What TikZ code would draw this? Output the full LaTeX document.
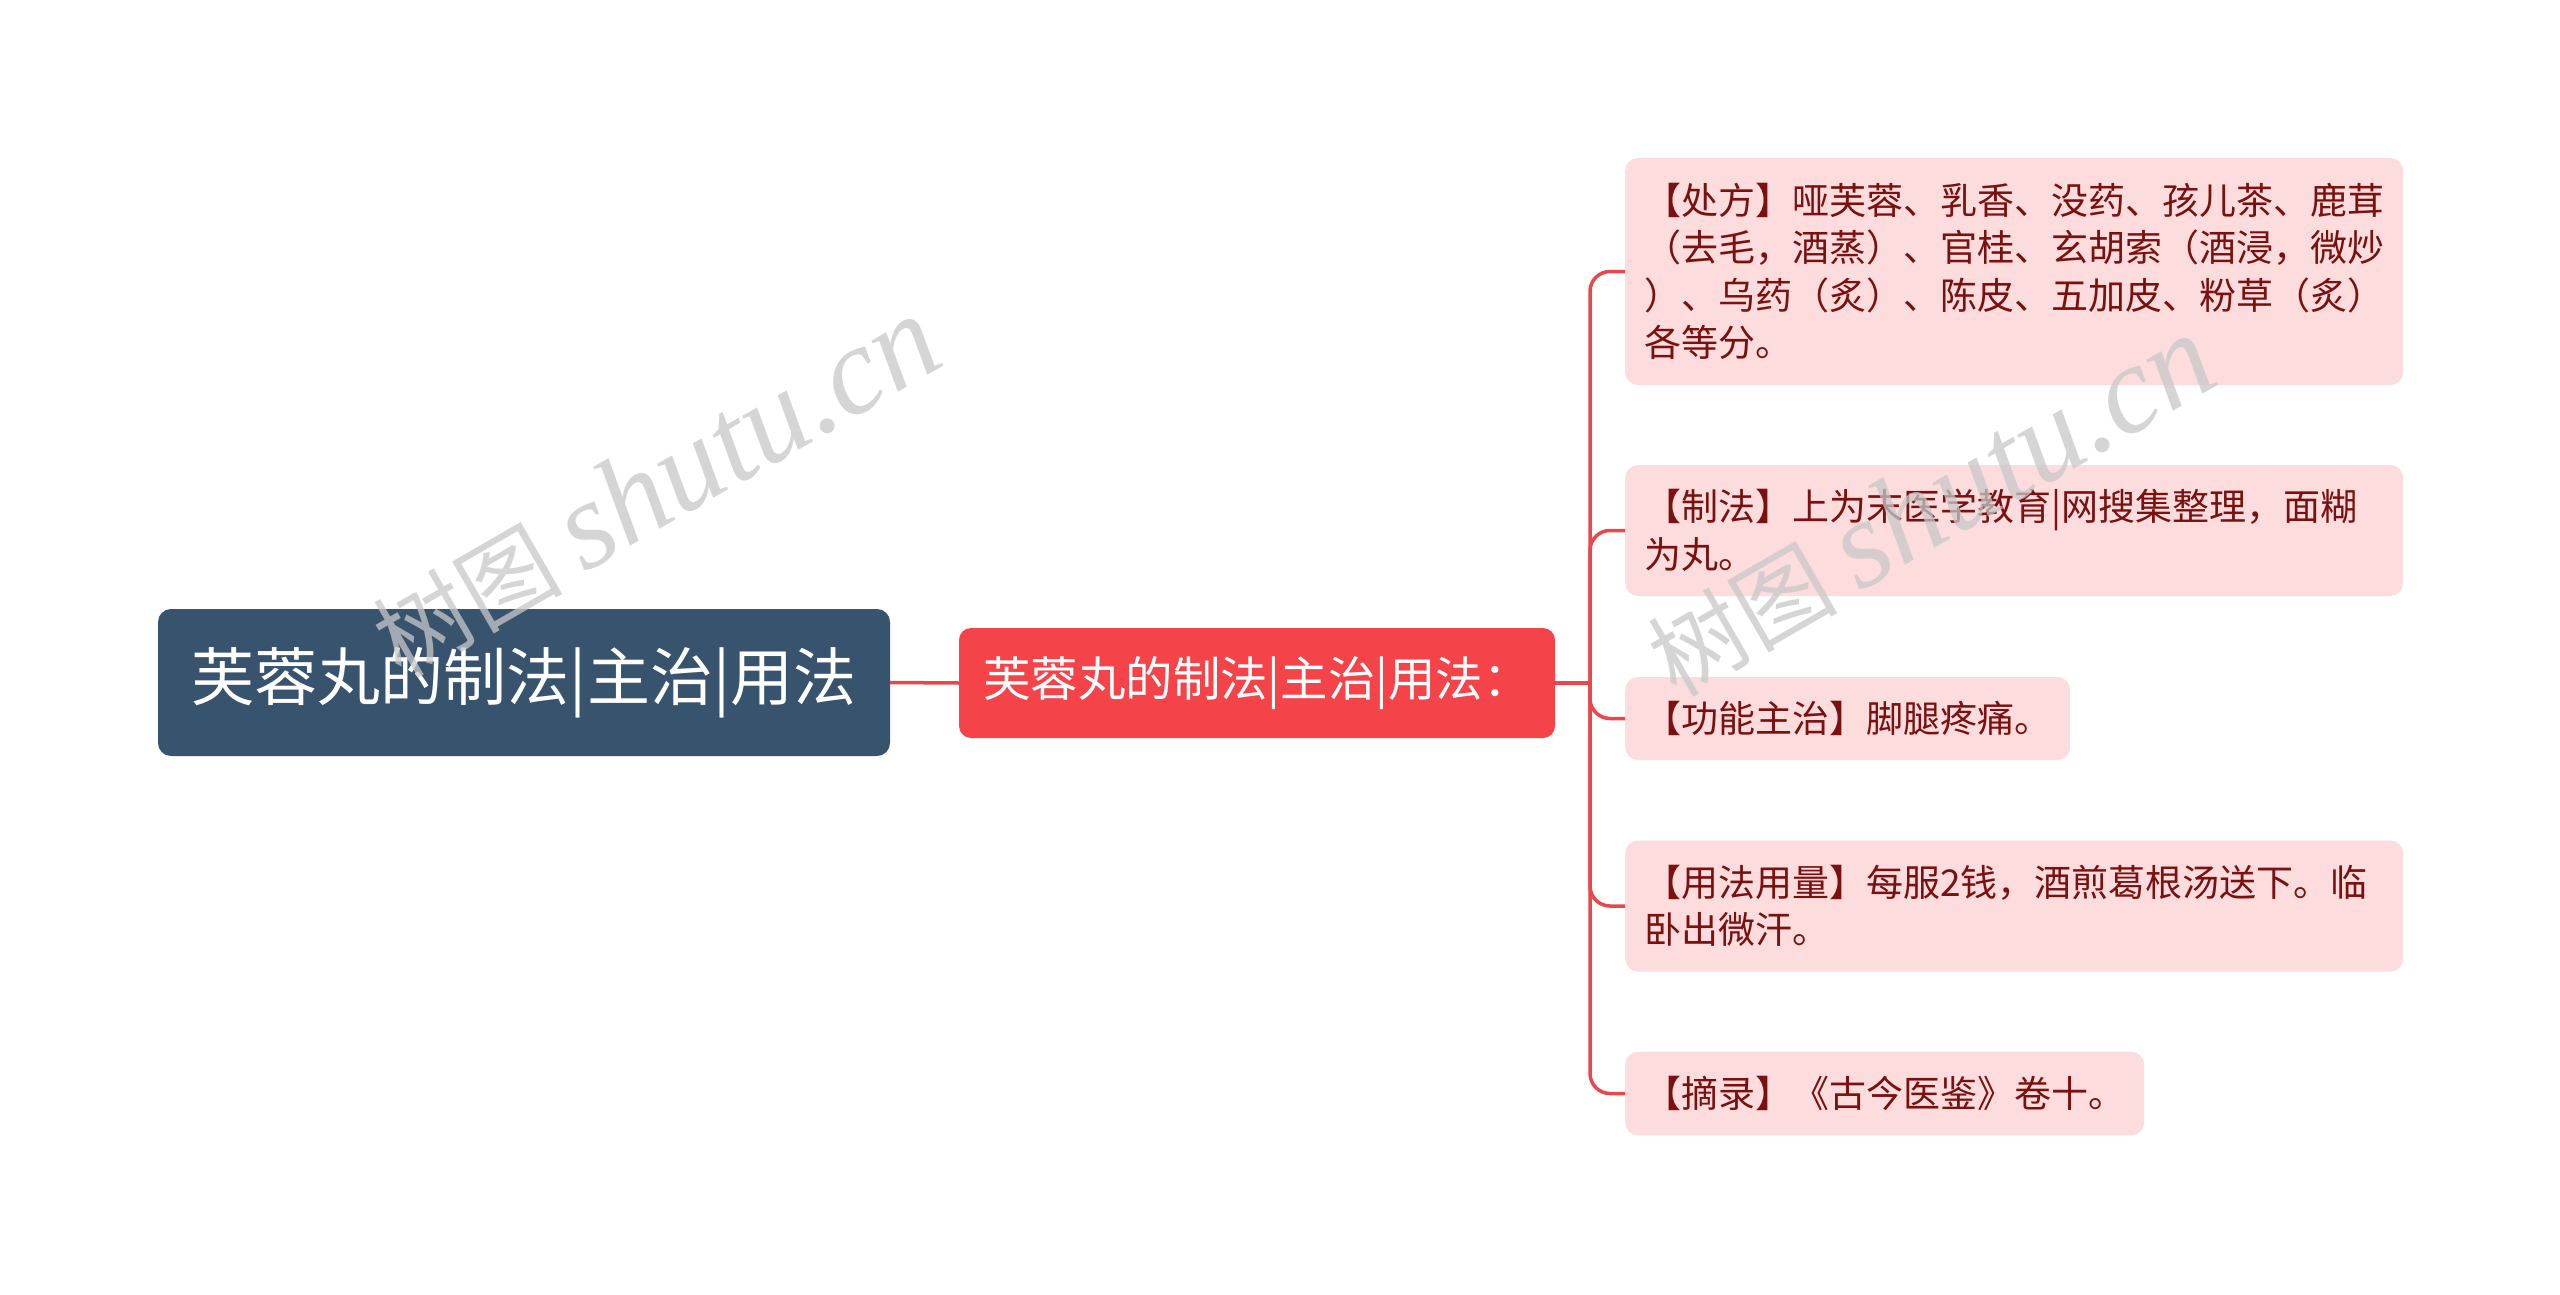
\documentclass[tikz,border=0pt]{standalone}
\usepackage{fontspec}
\newfontfamily\cjk{Noto Sans CJK SC}
\newfontfamily\wmlatin{Liberation Serif}
\newfontfamily\wmcjk{Noto Sans CJK SC}
\definecolor{rootc}{HTML}{37536E}
\definecolor{redc}{HTML}{F5434A}
\definecolor{leafc}{HTML}{FCDCDC}
\definecolor{leaftext}{HTML}{7A1010}
\definecolor{linec}{HTML}{E8474C}
\definecolor{wmc}{HTML}{C8C8C8}
\tikzset{
  rootbox/.style={fill=rootc, rounded corners=13pt, text=white, font=\cjk\fontsize{63}{70}\selectfont, inner sep=0pt},
  redbox/.style={fill=redc, rounded corners=12pt, text=white, font=\cjk\fontsize{47.4}{52}\selectfont, inner sep=0pt},
  leafbox/.style={fill=leafc, rounded corners=13pt, text=leaftext, font=\cjk\fontsize{37}{47.5}\selectfont, inner xsep=19pt, inner ysep=0pt, align=left, anchor=west},
  conn/.style={draw=linec, line width=3.5pt},
  wm/.style={text=wmc, opacity=0.75, rotate=30}
}
\begin{document}
\begin{tikzpicture}[x=1pt,y=-1pt]
\useasboundingbox (0,0) rectangle (2560,1295);
\fill[white] (0,0) rectangle (2560,1295);
\node[rootbox, minimum width=732pt, minimum height=147pt] (root) at (524,682.5) {芙蓉丸的制法|主治|用法};
\node[redbox, minimum width=596pt, minimum height=110pt] (red) at (1257,683) {芙蓉丸的制法|主治|用法：};
\node[leafbox, text width=740pt, minimum height=227pt] (l1) at (1625,271.5) {【处方】哑芙蓉、乳香、没药、孩儿茶、鹿茸\\（去毛，酒蒸）、官桂、玄胡索（酒浸，微炒\\）、乌药（炙）、陈皮、五加皮、粉草（炙）\\各等分。};
\node[leafbox, text width=740pt, minimum height=131pt] (l2) at (1625,530.5) {【制法】上为末医学教育|网搜集整理，面糊\\为丸。};
\node[leafbox, minimum height=83pt] (l3) at (1625,718.5) {【功能主治】脚腿疼痛。};
\node[leafbox, text width=740pt, minimum height=131pt] (l4) at (1625,906) {【用法用量】每服2钱，酒煎葛根汤送下。临\\卧出微汗。};
\node[leafbox, minimum height=83.5pt] (l5) at (1625,1093.5) {【摘录】《古今医鉴》卷十。};
\coordinate (j) at (1590,683);
\draw[conn] (root.east) -- (red.west);
\draw[conn] (red.east) -- (j);
\foreach \l in {l1,l2,l3,l4,l5}{
  \draw[conn, rounded corners=20pt] (j) |- (\l.west);
}
\node[wm] (wm1) at (655,487) {{\wmcjk\fontsize{95}{100}\selectfont 树图}\hspace{22pt}{\wmlatin\itshape\fontsize{125}{130}\selectfont shutu.cn}};
\node[wm] (wm2) at (1930,506) {{\wmcjk\fontsize{95}{100}\selectfont 树图}\hspace{22pt}{\wmlatin\itshape\fontsize{125}{130}\selectfont shutu.cn}};
\end{tikzpicture}
\end{document}
